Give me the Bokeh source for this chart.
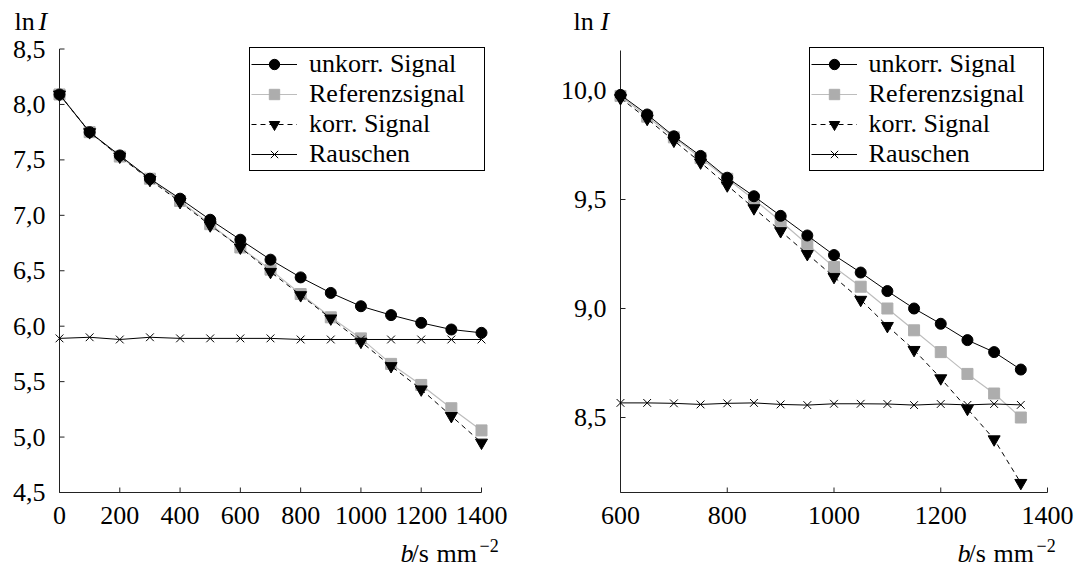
from bokeh.plotting import figure
from bokeh.models import Range1d, Legend, LegendItem, Label
from bokeh.core.properties import value
from bokeh.layouts import row
from bokeh.embed import file_html
from bokeh.resources import INLINE

# ---------------- data ----------------
b_left = [0, 100, 200, 300, 400, 500, 600, 700, 800, 900, 1000, 1100, 1200, 1300, 1400]
unkorr_left = [8.09, 7.75, 7.54, 7.33, 7.15, 6.96, 6.78, 6.60, 6.44, 6.30, 6.18, 6.10, 6.03, 5.97, 5.94]
ref_left = [8.09, 7.75, 7.53, 7.33, 7.13, 6.92, 6.71, 6.51, 6.29, 6.08, 5.89, 5.66, 5.47, 5.26, 5.06]
korr_left = [8.09, 7.75, 7.53, 7.32, 7.12, 6.91, 6.71, 6.49, 6.28, 6.07, 5.86, 5.64, 5.43, 5.19, 4.95]
noise_left = [5.89, 5.90, 5.88, 5.90, 5.89, 5.89, 5.89, 5.89, 5.88, 5.88, 5.88, 5.88, 5.88, 5.88, 5.88]

b_right = [600, 650, 700, 750, 800, 850, 900, 950, 1000, 1050, 1100, 1150, 1200, 1250, 1300, 1350]
unkorr_right = [9.98, 9.89, 9.79, 9.70, 9.60, 9.515, 9.425, 9.335, 9.245, 9.165, 9.08, 9.00, 8.93, 8.855, 8.80, 8.72]
ref_right = [9.975, 9.88, 9.785, 9.69, 9.595, 9.50, 9.40, 9.295, 9.19, 9.10, 9.00, 8.90, 8.80, 8.70, 8.61, 8.50]
korr_right = [9.965, 9.87, 9.77, 9.67, 9.565, 9.46, 9.355, 9.25, 9.145, 9.04, 8.92, 8.81, 8.68, 8.54, 8.40, 8.20]
noise_right = [8.567, 8.567, 8.565, 8.56, 8.565, 8.567, 8.56, 8.557, 8.563, 8.563, 8.562, 8.557, 8.562, 8.558, 8.562, 8.558]

xticks_left = [0, 200, 400, 600, 800, 1000, 1200, 1400]
yticks_left = [4.5, 5.0, 5.5, 6.0, 6.5, 7.0, 7.5, 8.0, 8.5]
xticks_right = [600, 800, 1000, 1200, 1400]
yticks_right = [8.5, 9.0, 9.5, 10.0]

names = ["unkorr. Signal", "Referenzsignal", "korr. Signal", "Rauschen"]

FONT = "Liberation Serif"
FS = "26px"
AXC = "#222222"


def make_plot(width, height, xb, yb, px_x, px_y, xs, series, xticks, yticks,
              legend_box, lnI_x, lnI_I_x, lab_pos):
    # px_x: canvas px of xb[0], xb[1]; px_y: canvas px of yb[1] (top), yb[0] (bottom)
    kx = (px_x[1] - px_x[0]) / (xb[1] - xb[0])
    ky = (px_y[1] - px_y[0]) / (yb[1] - yb[0])
    x_start = xb[0] - px_x[0] / kx
    x_end = xb[1] + (width - px_x[1]) / kx
    y_start = yb[0] - (height - px_y[1]) / ky
    y_end = yb[1] + px_y[0] / ky
    p = figure(width=width, height=height, output_backend="svg", toolbar_location=None,
               x_range=Range1d(x_start, x_end), y_range=Range1d(y_start, y_end),
               min_border=0)
    p.xaxis.visible = False
    p.yaxis.visible = False
    p.outline_line_color = None
    p.grid.grid_line_color = None
    p.background_fill_color = "white"
    p.border_fill_color = "white"

    # axis lines (bounded like the reference)
    p.segment(x0=[xb[0], xb[0]], y0=[yb[0], yb[0]], x1=[xb[1], xb[0]], y1=[yb[0], yb[1]],
              line_color=AXC, line_width=1)
    # inward ticks, 5 px long
    tl_y = 5 / ky
    tl_x = 5 / kx
    p.segment(x0=xticks, y0=[yb[0]] * len(xticks), x1=xticks,
              y1=[yb[0] + tl_y] * len(xticks), line_color=AXC, line_width=1)
    p.segment(x0=[xb[0]] * len(yticks), y0=yticks, x1=[xb[0] + tl_x] * len(yticks),
              y1=yticks, line_color=AXC, line_width=1)
    # tick labels
    p.text(x=xticks, y=[yb[0]] * len(xticks), text=[str(t) for t in xticks],
           text_font=value(FONT), text_font_size=FS, text_color="black",
           text_align="center", text_baseline="top", y_offset=14)
    p.text(x=[xb[0]] * len(yticks), y=yticks,
           text=[("%.1f" % t).replace(".", ",") for t in yticks],
           text_font=value(FONT), text_font_size=FS, text_color="black",
           text_align="right", text_baseline="middle", x_offset=-14)

    unk, ref, kor, noi = series
    l2 = p.line(xs, ref, line_color="#bdbdbd", line_width=1.2)
    m2 = p.scatter(xs, ref, marker="square", size=11, fill_color="#adadad", line_color="#adadad")
    l1 = p.line(xs, unk, line_color="black", line_width=1)
    m1 = p.scatter(xs, unk, marker="circle", size=11, fill_color="black", line_color="black")
    l3 = p.line(xs, kor, line_color="black", line_width=1, line_dash="5 4")
    m3 = p.scatter(xs, kor, marker="inverted_triangle", size=12, fill_color="black", line_color="black")
    l4 = p.line(xs, noi, line_color="black", line_width=1)
    m4 = p.scatter(xs, noi, marker="x", size=11, line_color="black", line_width=1)

    legend = Legend(items=[LegendItem(label=names[0], renderers=[l1, m1]),
                           LegendItem(label=names[1], renderers=[l2, m2]),
                           LegendItem(label=names[2], renderers=[l3, m3]),
                           LegendItem(label=names[3], renderers=[l4, m4])],
                    location=(legend_box[0], height - legend_box[1]))
    legend.padding = 1
    legend.spacing = 0
    legend.margin = 0
    legend.glyph_width = 46
    legend.glyph_height = 26
    legend.label_height = 26
    legend.label_width = legend_box[2]
    legend.label_standoff = 12
    legend.border_line_color = "black"
    legend.border_line_width = 1
    legend.border_line_alpha = 1
    legend.background_fill_color = "white"
    legend.background_fill_alpha = 1
    legend.label_text_font = FONT
    legend.label_text_font_size = FS
    legend.label_text_color = "black"
    p.add_layout(legend)

    def lab(text, cx, cy, style="normal", size=FS):
        p.add_layout(Label(x=cx, y=height - cy, x_units="screen", y_units="screen",
                           text=text, text_font=FONT, text_font_size=size,
                           text_font_style=style, text_color="black",
                           text_baseline="middle", text_align="left"))

    lab("ln", lnI_x, 21)
    lab("I", lnI_I_x, 21, "italic")
    bx, sx, mx, ex = lab_pos
    lab("b", bx, 553, "italic")
    lab("/s", sx, 553)
    lab("mm", mx, 553)
    lab("\u22122", ex, 545, size="18px")
    return p


left = make_plot(540, 572, (0, 1400), (4.5, 8.5), (59, 481), (48.5, 492),
                 b_left, (unkorr_left, ref_left, korr_left, noise_left),
                 xticks_left, yticks_left, (249, 171, 174), 14, 38, (400, 411, 436, 479))

right = make_plot(541, 572, (600, 1400), (8.156, 10.1835), (80, 507), (50, 492),
                  b_right, (unkorr_right, ref_right, korr_right, noise_right),
                  xticks_right, yticks_right, (268.6, 171, 173), 33, 60, (417, 428, 453, 496))

layout = row(left, right)
open("out.html", "w").write(file_html(layout, INLINE))
